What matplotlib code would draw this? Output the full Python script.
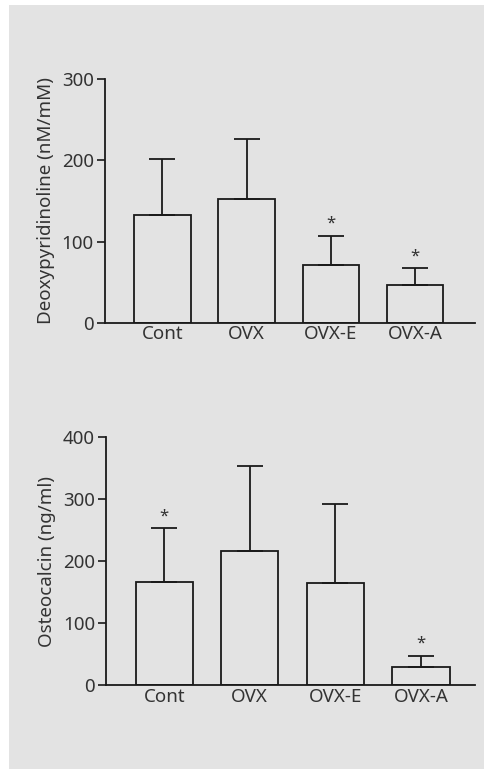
import matplotlib
matplotlib.use("Agg")
import matplotlib.pyplot as plt
import numpy as np
from matplotlib.patches import Rectangle

# --------------------------------------------------------
# Dados
# --------------------------------------------------------
grupos = ["Cont", "OVX", "OVX-E", "OVX-A"]

dpd_media = [133, 152, 71, 47]
dpd_erro = [69, 75, 36, 20]
dpd_sig = [False, False, True, True]

oc_media = [167, 216, 165, 30]
oc_erro = [86, 137, 127, 17]
oc_sig = [True, False, False, True]

plt.rcParams["font.family"] = ["Noto Sans", "DejaVu Sans"]
cor_texto = "#333333"
cor_linha = "#1a1a1a"
fundo = "#e3e3e3"
tam = 13.5

fig = plt.figure(figsize=(4.85, 7.69), dpi=100)
fig.patch.set_facecolor("white")
fig.patches.append(Rectangle((9 / 485, 0), 1, 764 / 769, transform=fig.transFigure,
                             facecolor=fundo, edgecolor="none", zorder=-10))


def painel(ax, medias, erros, sig, ymax, ylabel, xmax):
    x = np.arange(len(grupos))
    ax.set_facecolor("none")
    ax.bar(x, medias, width=0.67, facecolor="none", edgecolor=cor_linha,
           linewidth=1.3, zorder=2)
    ax.errorbar(x, medias, yerr=[np.zeros(len(erros)), erros], fmt="none",
                ecolor=cor_linha, elinewidth=1.3, capsize=9.7, capthick=1.3, zorder=3)
    for xi, m, e, s in zip(x, medias, erros, sig):
        if s:
            ax.annotate("*", (xi, m + e), xytext=(0, 3), textcoords="offset points",
                        ha="center", va="bottom", fontsize=12, color=cor_texto)
    ax.set_xlim(-0.68, xmax)
    ax.set_ylim(0, ymax)
    ax.set_yticks(np.arange(0, ymax + 1, 100))
    ax.set_xticks(x)
    ax.set_xticklabels(grupos)
    ax.tick_params(axis="x", length=0, pad=2, labelsize=tam, colors=cor_texto)
    ax.tick_params(axis="y", length=6, width=1.2, pad=2, labelsize=tam,
                   colors=cor_texto, color=cor_linha)
    for lado in ["top", "right"]:
        ax.spines[lado].set_visible(False)
    for lado in ["left", "bottom"]:
        ax.spines[lado].set_linewidth(1.3)
        ax.spines[lado].set_color(cor_linha)
    ax.set_ylabel(ylabel, fontsize=tam, color=cor_texto, labelpad=5)


ax1 = fig.add_axes([0.2165, 0.5804, 0.7625, 0.3165])
painel(ax1, dpd_media, dpd_erro, dpd_sig, 300, "Deoxypyridinoline (nM/mM)", 3.71)

ax2 = fig.add_axes([0.2186, 0.1088, 0.7604, 0.3225])
painel(ax2, oc_media, oc_erro, oc_sig, 400, "Osteocalcin (ng/ml)", 3.63)

fig.savefig("out.png", dpi=100, facecolor=fig.get_facecolor())
